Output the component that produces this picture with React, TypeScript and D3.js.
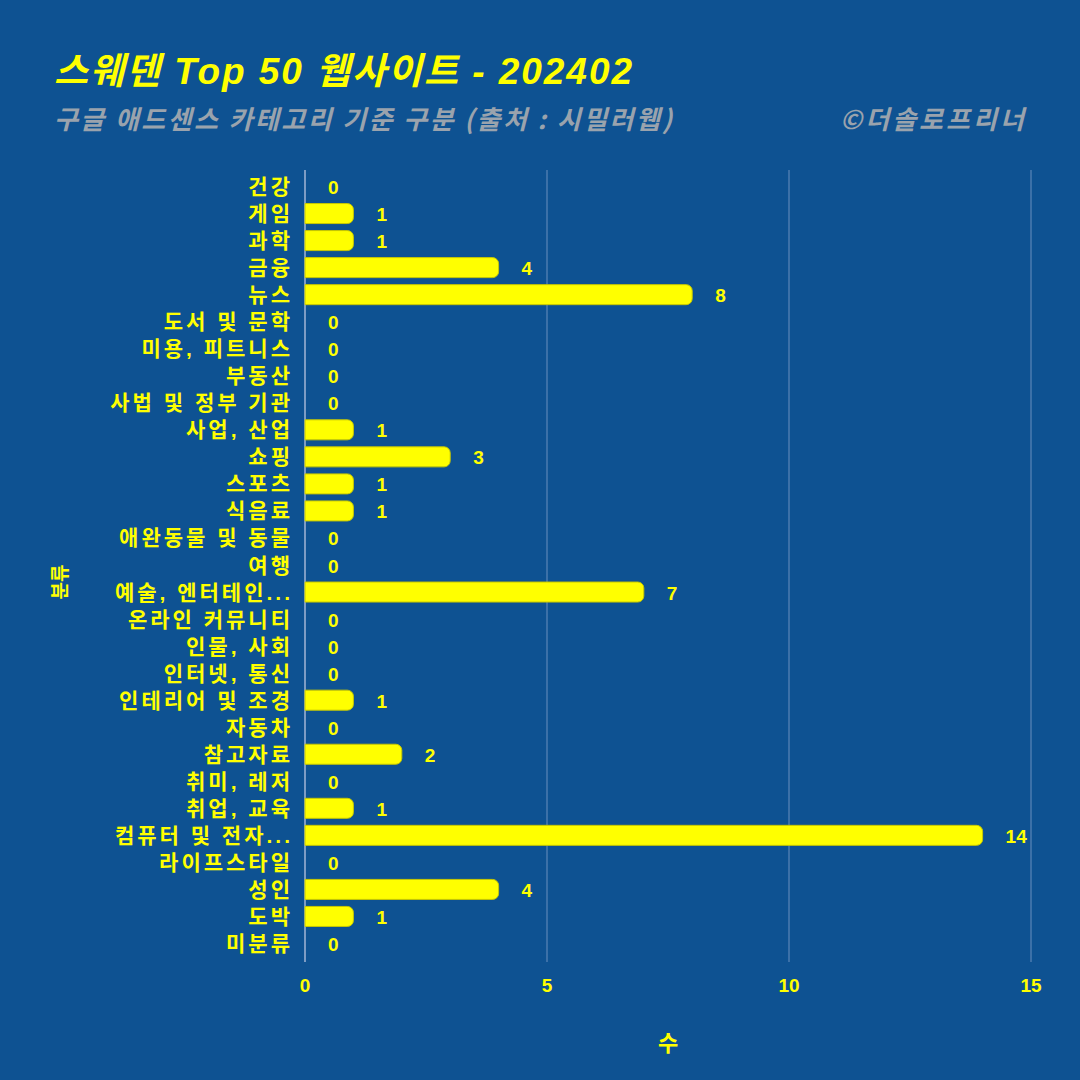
import React from "react";
import * as d3 from "d3";

const categories = [
  "건강", "게임", "과학", "금융", "뉴스", "도서 및 문학", "미용, 피트니스", "부동산",
  "사법 및 정부 기관", "사업, 산업", "쇼핑", "스포츠", "식음료", "애완동물 및 동물", "여행",
  "예술, 엔터테인...", "온라인 커뮤니티", "인물, 사회", "인터넷, 통신", "인테리어 및 조경",
  "자동차", "참고자료", "취미, 레저", "취업, 교육", "컴퓨터 및 전자...", "라이프스타일",
  "성인", "도박", "미분류",
];
const values = [0, 1, 1, 4, 8, 0, 0, 0, 0, 1, 3, 1, 1, 0, 0, 7, 0, 0, 0, 1, 0, 2, 0, 1, 14, 0, 4, 1, 0];
const xTicks = [0, 5, 10, 15];

const W = 1080;
const H = 1080;
const BG = "#0E5292";
const YEL = "#FFFF00";
const FONT = "'Noto Sans CJK KR', 'Noto Sans', sans-serif";
const LFONT = "'Liberation Sans', 'Noto Sans CJK KR', sans-serif";

export default function App() {
  const x = d3.scaleLinear().domain([0, 15]).range([305, 1031]);
  const y = d3.scaleBand().domain(categories).range([173, 957]).paddingInner(0.26).paddingOuter(0.13);
  const bh = y.bandwidth();
  return (
    <svg width={W} height={H} style={{ position: "absolute", left: 0, top: 0 }}>
      <rect x={0} y={0} width={W} height={H} fill={BG} />
      {xTicks.map((t) => (
        <line key={t} x1={x(t)} x2={x(t)} y1={170} y2={962} stroke="#5C86B8" strokeWidth={1.2} />
      ))}
      <line x1={x(0)} x2={x(0)} y1={170} y2={962} stroke="#7D9CC4" strokeWidth={2} />
      {categories.map((c, i) => {
        const v = values[i];
        const y0 = y(c)!;
        const xe = x(v);
        const w = xe - x(0);
        const r = Math.min(6, w / 2);
        const path = w > 0
          ? `M${x(0)},${y0} H${xe - r} A${r},${r} 0 0 1 ${xe},${y0 + r} V${y0 + bh - r} A${r},${r} 0 0 1 ${xe - r},${y0 + bh} H${x(0)} Z`
          : "";
        return (
          <g key={c}>
            {w > 0 && <path d={path} fill={YEL} stroke="#C8C800" strokeWidth={1} />}
            <text x={293} y={y0 + bh / 2} textAnchor="end" dominantBaseline="central" fill={YEL}
              fontFamily={LFONT} fontWeight={700} fontSize={21} letterSpacing={3}>{c}</text>
            <text x={xe + 23} y={y0 + bh / 2 + 1} textAnchor="start" dominantBaseline="central" fill={YEL}
              fontFamily={LFONT} fontWeight={700} fontSize={19}>{v}</text>
          </g>
        );
      })}
      {xTicks.map((t) => (
        <text key={t} x={x(t)} y={985} textAnchor="middle" dominantBaseline="central" fill={YEL}
          fontFamily={LFONT} fontWeight={700} fontSize={19}>{t}</text>
      ))}
      <text x={668} y={1041} textAnchor="middle" dominantBaseline="central" fill={YEL}
        fontFamily={FONT} fontWeight={700} fontSize={22}>수</text>
      <text transform="translate(58,582) rotate(-90)" textAnchor="middle" dominantBaseline="central" fill={YEL}
        fontFamily={FONT} fontWeight={700} fontSize={19}>분류</text>
      <text x={54} y={71} dominantBaseline="central" fill={YEL} fontFamily={LFONT} fontWeight={700}
        fontStyle="italic" fontSize={37} textLength={578} lengthAdjust="spacing">스웨덴 Top 50 웹사이트 - 202402</text>
      <text x={54} y={117} dominantBaseline="central" fill="#9AA3AD" fontFamily={FONT} fontWeight={700}
        fontStyle="italic" fontSize={26} textLength={618} lengthAdjust="spacing">구글 애드센스 카테고리 기준 구분 (출처 : 시밀러웹)</text>
      <text x={1024} y={117} textAnchor="end" dominantBaseline="central" fill="#9AA3AD" fontFamily={FONT}
        fontWeight={700} fontStyle="italic" fontSize={26} textLength={184} lengthAdjust="spacing">©더솔로프리너</text>
    </svg>
  );
}
